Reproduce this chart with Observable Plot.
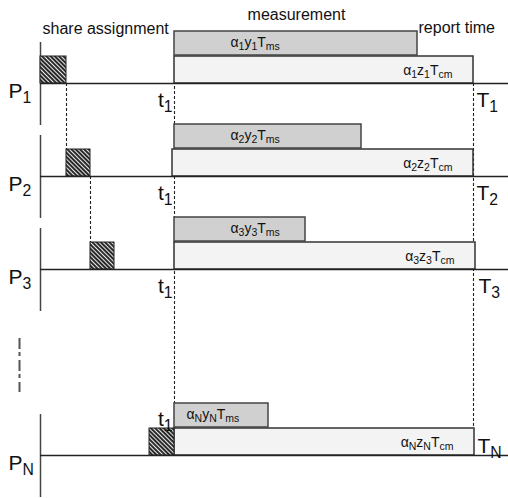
<!DOCTYPE html>
<html>
<head>
<meta charset="utf-8">
<script src="https://cdn.jsdelivr.net/npm/d3@7"></script>
<script src="https://cdn.jsdelivr.net/npm/@observablehq/plot@0.6"></script>
<style>
  html, body { margin: 0; padding: 0; background: #fff; }
  #chart svg { display: block; }
</style>
</head>
<body>
<div id="chart"></div>
<script>
// ---- data (time units; share assignment of P1 starts at 0) ----
const procSub    = ["1", "2", "3", "N"];
const slots      = [0, 1, 2, 4];            // row slot (slot 3 = ellipsis)
const shareStart = [0, 26, 50, 109];
const shareEnd   = [26, 50, 74, 134];
const t1         = 134;                     // measurement start
const msDur      = [243, 187, 131, 94];     // α_i y_i T_ms
const cmStart    = [134, 132, 134, 134];
const cmEnd      = [433, 433, 435, 434];    // report times T_i
const msLabels   = ["α_{1}y_{1}T_{ms}", "α_{2}y_{2}T_{ms}", "α_{3}y_{3}T_{ms}", "α_{N}y_{N}T_{ms}"];
const cmLabels   = ["α_{1}z_{1}T_{cm}", "α_{2}z_{2}T_{cm}", "α_{3}z_{3}T_{cm}", "α_{N}z_{N}T_{cm}"];
const headings   = ["share assignment", "measurement", "report time"];

// ---- layout ----
const ROW = 93;
const rows = procSub.map((s, i) => ({
  i, sub: s, base: slots[i] * ROW,
  s0: shareStart[i], s1: shareEnd[i],
  msEnd: t1 + msDur[i], c0: cmStart[i], c1: cmEnd[i],
  ms: msLabels[i], cm: cmLabels[i],
  last: i === procSub.length - 1
}));
const lastBase = rows[rows.length - 1].base;
const connectors = rows.slice(0, 2).map((r, k) => ({x: r.s1, y1: r.base, y2: rows[k + 1].base}));

const big = {fontFamily: "'Liberation Sans Narrow', 'Arial Narrow', 'Liberation Sans', sans-serif", fontSize: 21, fill: "#111", lineAnchor: "bottom"};
const head = {fontFamily: "'Liberation Sans', Arial, sans-serif", fontSize: 16, fill: "#111", lineAnchor: "bottom"};
const small = {fontFamily: "'Liberation Sans', Arial, sans-serif", fontSize: 14, fill: "#111", lineAnchor: "bottom"};

const chart = Plot.plot({
  width: 508, height: 498,
  margin: 0,
  x: {type: "linear", domain: [-40, 468], range: [0, 508], axis: null},
  y: {type: "linear", domain: [-83, 415], range: [0, 498], axis: null},
  marks: [
    // dashed guides
    Plot.ruleX([t1], {y1: -52, y2: lastBase, stroke: "#222", strokeWidth: 1.1, strokeDasharray: "3,2"}),
    Plot.ruleX([cmEnd[0]], {y1: 0, y2: lastBase + 2, stroke: "#222", strokeWidth: 1.1, strokeDasharray: "3,2"}),
    Plot.ruleX(connectors, {x: "x", y1: "y1", y2: "y2", stroke: "#222", strokeWidth: 1.1, strokeDasharray: "3,2"}),
    // processor axes
    Plot.ruleX(rows, {x: 0, y1: d => d.base - 41, y2: d => d.base + 42, stroke: "#444", strokeWidth: 1.5}),
    // ellipsis
    Plot.ruleX([-21], {y1: 3 * ROW - 24, y2: 3 * ROW + 30, stroke: "#555", strokeWidth: 2, strokeDasharray: "11,3,4,4"}),
    // bars
    Plot.rect(rows, {x1: "c0", x2: "c1", y1: d => d.base - 27, y2: "base", fill: "#f3f3f3", stroke: "#333", strokeWidth: 1.5}),
    Plot.rect(rows, {x1: t1, x2: "msEnd", y1: d => d.base - 52, y2: d => d.base - 28, fill: "#d0d0d0", stroke: "#444", strokeWidth: 1.5}),
    Plot.rect(rows, {x1: "s0", x2: "s1", y1: d => d.base - 27, y2: "base", fill: "url(#hatch)", stroke: "#222", strokeWidth: 1}),
    // baselines
    Plot.ruleY(rows, {y: "base", x1: 0, x2: 468, stroke: "#222", strokeWidth: 1.5}),
    // headings
    Plot.text([headings[0]], {x: 2, y: -50, text: d => d, textAnchor: "start", ...head}),
    Plot.text([headings[1]], {x: 256, y: -64, text: d => d, textAnchor: "middle", ...head}),
    Plot.text([headings[2]], {x: 378, y: -51, text: d => d, textAnchor: "start", ...head}),
    // labels
    Plot.text(rows, {x: -32, y: d => d.base + 14, text: d => `P_{${d.sub}}`, textAnchor: "start", ...big}),
    Plot.text(rows, {x: t1 - 2, y: d => d.last ? d.base - 30 : d.base + 23, text: d => "t_{1}", textAnchor: "end", ...big}),
    Plot.text(rows, {x: d => d.c1 + 3, y: d => d.last ? d.base - 3 : d.base + 23, text: d => `T_{${d.sub}}`, textAnchor: "start", ...big}),
    Plot.text(rows, {x: d => t1 + (d.msEnd - t1 < 100 ? 12 : 56), y: d => d.base - 37, text: "ms", textAnchor: "start", ...small}),
    Plot.text(rows, {x: d => d.c1 - 21, y: d => d.base - 9, text: "cm", textAnchor: "end", ...small})
  ]
});

document.getElementById("chart").appendChild(chart);

// hatch pattern
const ns = "http://www.w3.org/2000/svg";
const defs = document.createElementNS(ns, "defs");
defs.innerHTML = `<pattern id="hatch" width="3" height="3" patternUnits="userSpaceOnUse" patternTransform="rotate(-45)">
  <rect width="3" height="3" fill="#2a2a2a"/><line x1="0.5" y1="0" x2="0.5" y2="3" stroke="#fff" stroke-width="0.9"/></pattern>`;
chart.insertBefore(defs, chart.firstChild);

// subscripts: "_{...}"
chart.querySelectorAll("text").forEach(t => {
  const s = t.textContent;
  if (!s.includes("_{")) return;
  const fs = parseFloat(getComputedStyle(t).fontSize) || 13;
  t.textContent = "";
  const re = /_\{([^}]*)\}/g;
  let last = 0, m, shifted = false;
  const add = (txt, sub) => {
    if (!txt) return;
    const sp = document.createElementNS(ns, "tspan");
    sp.textContent = txt;
    if (sub && !shifted) { sp.setAttribute("dy", (0.26 * fs).toFixed(2)); shifted = true; }
    else if (!sub && shifted) { sp.setAttribute("dy", (-0.26 * fs).toFixed(2)); shifted = false; }
    if (sub) sp.setAttribute("font-size", (0.75 * fs).toFixed(2));
    t.appendChild(sp);
  };
  while ((m = re.exec(s))) { add(s.slice(last, m.index), false); add(m[1], true); last = re.lastIndex; }
  add(s.slice(last), false);
});
</script>
</body>
</html>
